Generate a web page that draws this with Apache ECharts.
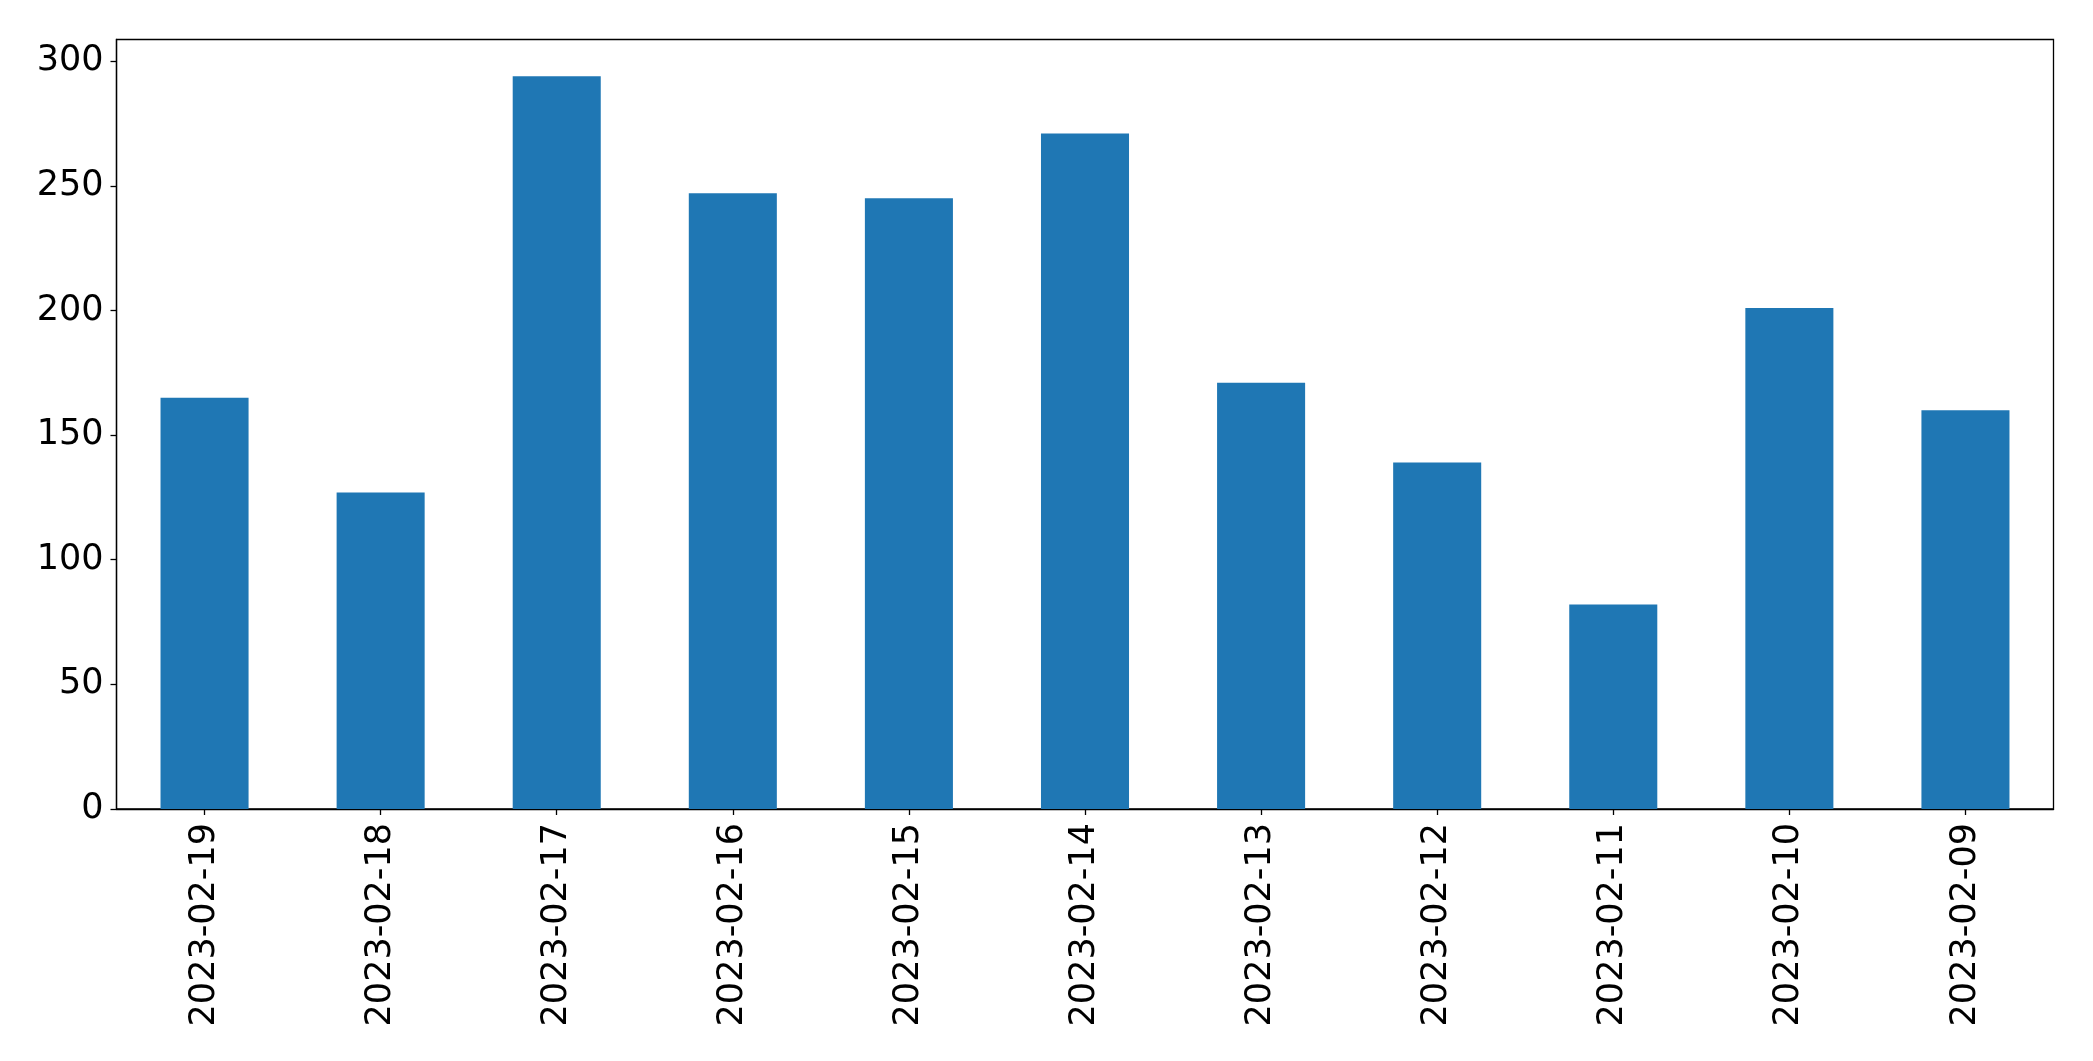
<!DOCTYPE html>
<html>
<head>
<meta charset="utf-8">
<script src="https://cdn.jsdelivr.net/npm/echarts@6/dist/echarts.min.js"></script>
<style>
html,body{margin:0;padding:0;background:#fff;}
#chart{width:2093px;height:1061px;}
</style>
</head>
<body>
<div id="chart"></div>
<script>
const categories = ["2023-02-19","2023-02-18","2023-02-17","2023-02-16","2023-02-15","2023-02-14","2023-02-13","2023-02-12","2023-02-11","2023-02-10","2023-02-09"];
const values = [165, 127, 294, 247, 245, 271, 171, 139, 82, 201, 160];
const yTicks = [0, 50, 100, 150, 200, 250, 300];

const chart = echarts.init(document.getElementById('chart'), null, {renderer: 'canvas'});
const font = 'DejaVu Sans';
chart.setOption({
  animation: false,
  backgroundColor: '#ffffff',
  grid: {
    left: 116.5, right: 39.5, top: 39.5, bottom: 252,
    show: true, borderColor: '#000', borderWidth: 1.3, backgroundColor: 'transparent'
  },
  xAxis: {
    type: 'category',
    data: categories,
    boundaryGap: true,
    axisLine: {show: true, lineStyle: {color: '#000', width: 1.3}},
    axisTick: {show: true, alignWithLabel: true, length: 6, lineStyle: {color: '#000', width: 1.3}},
    axisLabel: {rotate: 90, margin: 14, fontFamily: font, fontSize: 35, color: '#000', interval: 0},
    splitLine: {show: false}
  },
  yAxis: {
    type: 'value',
    min: 0,
    max: 308.7,
    axisLine: {show: true, lineStyle: {color: '#000', width: 1.3}},
    axisTick: {show: true, length: 6, lineStyle: {color: '#000', width: 1.3}, customValues: yTicks},
    axisLabel: {margin: 13, fontFamily: font, fontSize: 35, color: '#000', customValues: yTicks},
    splitLine: {show: false}
  },
  series: [{
    type: 'bar',
    data: values,
    barWidth: '50%',
    itemStyle: {color: '#1f77b4'}
  }]
});
</script>
</body>
</html>
